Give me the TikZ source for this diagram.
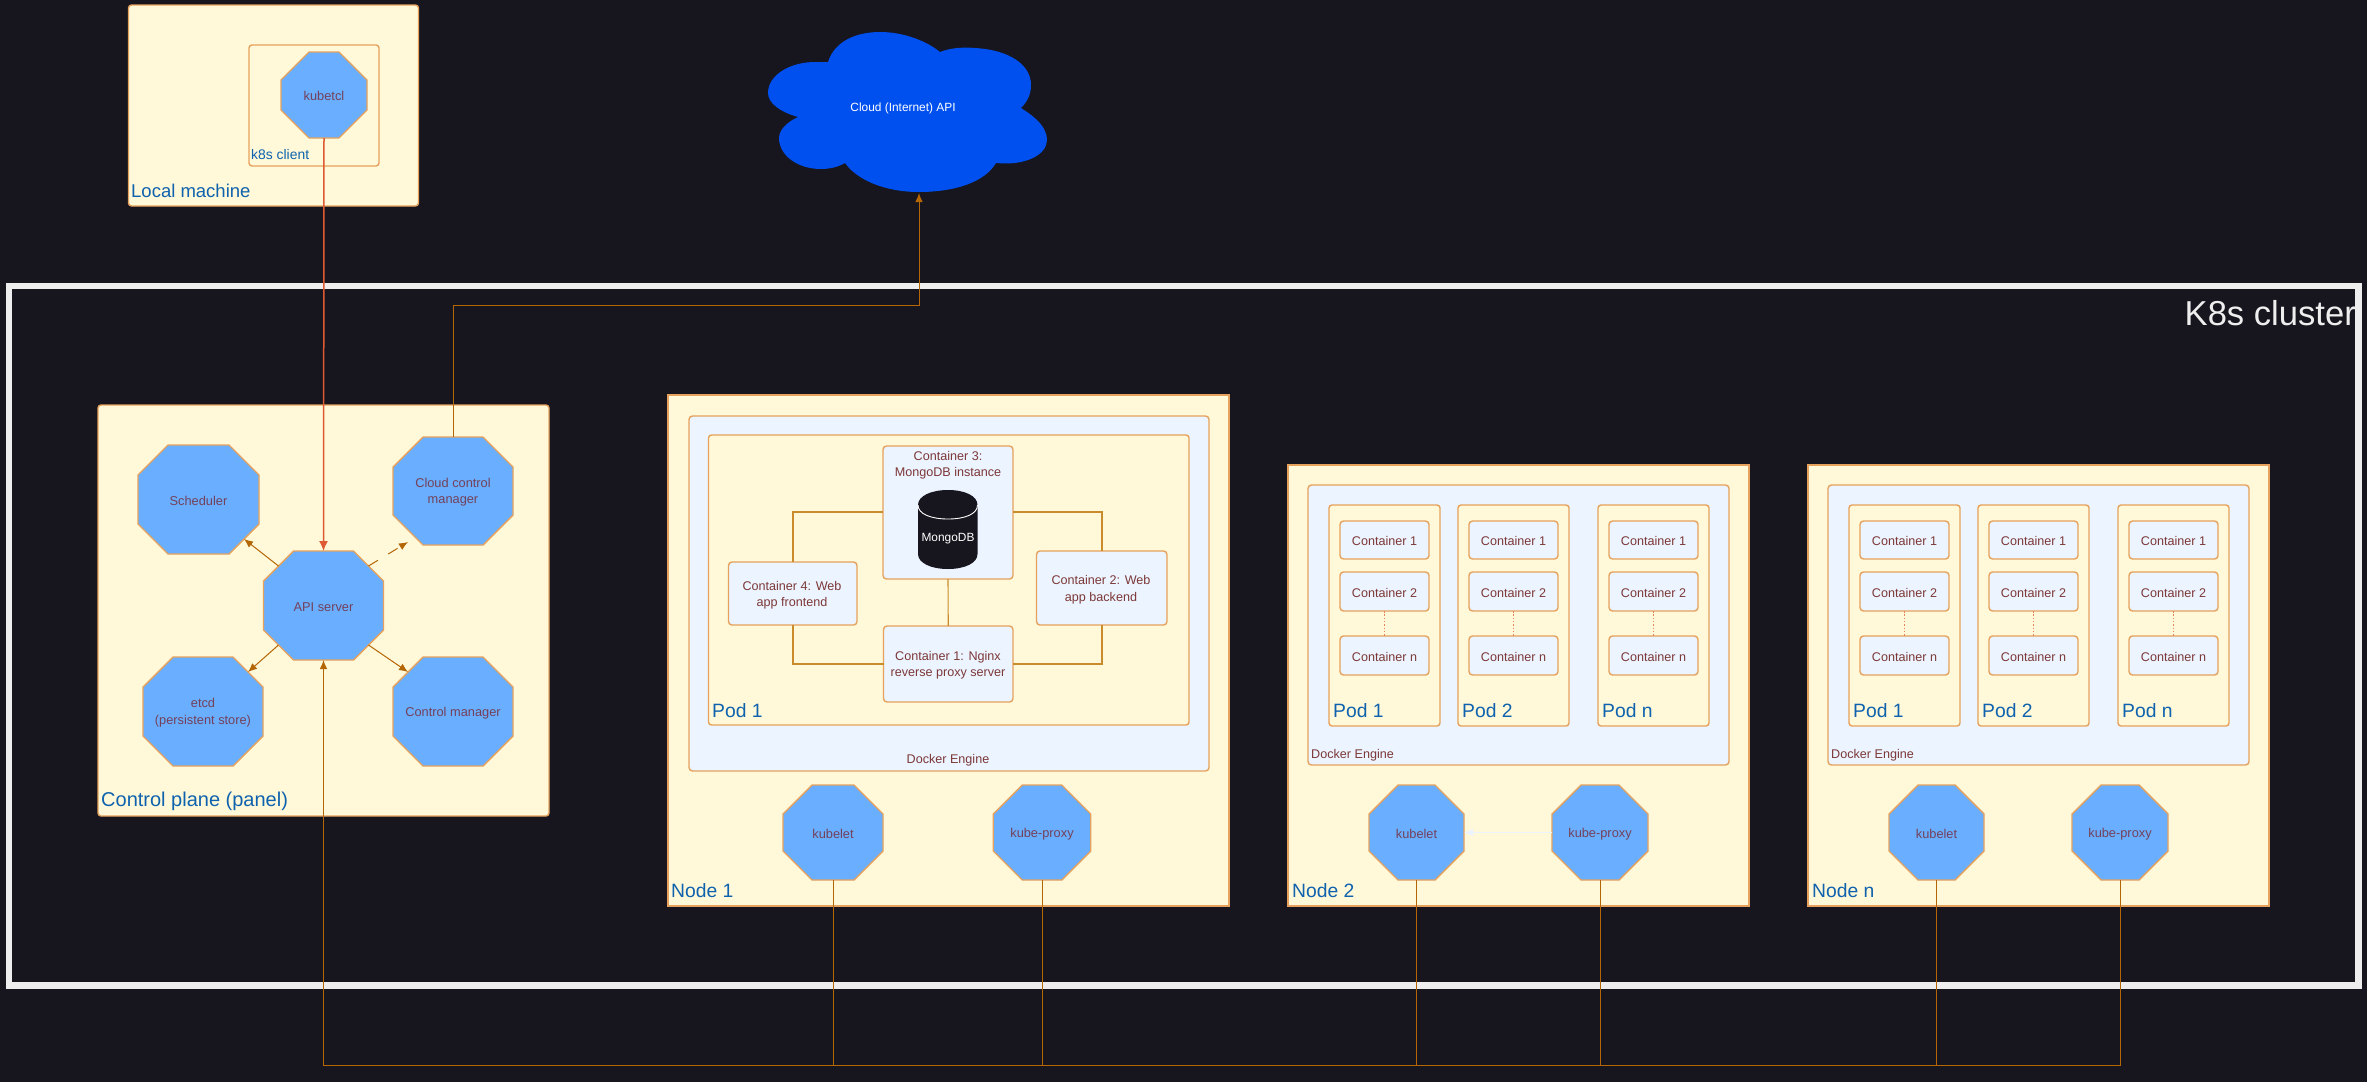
\documentclass[tikz,border=0pt]{standalone}
\usepackage{fontspec}
\setmainfont{Liberation Sans}
\usetikzlibrary{arrows.meta,calc}
\definecolor{bgc}{HTML}{17151D}
\definecolor{yel}{HTML}{FFF8D9}
\definecolor{pale}{HTML}{EBF4FF}
\definecolor{blu}{HTML}{6AAEFF}
\definecolor{edge}{HTML}{E6A25C}
\definecolor{wirec}{HTML}{B46504}
\definecolor{innerw}{HTML}{C98B2C}
\definecolor{redw}{HTML}{DD5A32}
\definecolor{txt}{HTML}{7D3838}
\definecolor{txtb}{HTML}{73415A}
\definecolor{lab}{HTML}{0F62AE}
\definecolor{cloudc}{HTML}{0050EF}
\definecolor{frame}{HTML}{EEEEEE}
\tikzset{
  x=1pt,y=-1pt,
  fs/.style={font=\fontsize{#1}{16.5}\selectfont},
  boxbase/.style={anchor=north west,inner sep=0pt,outer sep=0pt,draw=edge,line width=1.4pt},
  yelbox/.style={boxbase,fill=yel,rounded corners=3pt},
  yelsq/.style={boxbase,fill=yel},
  palebox/.style={boxbase,fill=pale,rounded corners=3.5pt},
  octface/.style={fill=blu,draw=edge,line width=1.4pt,line join=miter},
  octshape/.style={inner sep=0pt,outer sep=0pt},
  octtext/.style={inner sep=0pt,outer sep=0pt,align=center,text=txtb,fs=12.8},
  ctext/.style={inner sep=0pt,align=center,text=txt,fs=12.6},
  contbox/.style={palebox,text=txt,fs=12.6,text height=11.6pt,text depth=0pt},
  biglab/.style={anchor=west,inner sep=0pt,text=lab,fs=#1},
  biglab/.default=19.3,
  wire/.style={draw=wirec,line width=1pt},
  inwire/.style={draw=innerw,line width=1.1pt},
  tip/.style={-{Latex[length=9pt,width=7.5pt]}},
  dotw/.style={draw=redw!75!yel,line width=1pt,dash pattern=on 1.5pt off 1.8pt},
}
\newcommand{\rbox}[7]{\node[#1,minimum width={((#5)-(#3))*1pt},minimum height={((#6)-(#4))*1pt}] (#2) at (#3,#4) {#7};}
\newcommand{\octo}[7]{%
  \draw[octface] ({#2-#4/2+#6},{#3-#5/2}) -- ({#2+#4/2-#6},{#3-#5/2}) -- ({#2+#4/2},{#3-#5/2+#6}) -- ({#2+#4/2},{#3+#5/2-#6}) -- ({#2+#4/2-#6},{#3+#5/2}) -- ({#2-#4/2+#6},{#3+#5/2}) -- ({#2-#4/2},{#3+#5/2-#6}) -- ({#2-#4/2},{#3-#5/2+#6}) -- cycle;
  \node[octshape,minimum width={#4*1pt},minimum height={#5*1pt}] (#1) at (#2,#3) {};
  \node[octtext] (#1-t) at (#2,{#3+1.2}) {#7};
  \coordinate (#1-ul) at ({#2-#4/2+#6/2},{#3-#5/2+#6/2});
  \coordinate (#1-ur) at ({#2+#4/2-#6/2},{#3-#5/2+#6/2});
  \coordinate (#1-ll) at ({#2-#4/2+#6/2},{#3+#5/2-#6/2});
  \coordinate (#1-lr) at ({#2+#4/2-#6/2},{#3+#5/2-#6/2});}
\begin{document}
\begin{tikzpicture}
\fill[bgc] (0,0) rectangle (2367,1082);
\useasboundingbox (0,0) rectangle (2367,1082);
% cluster frame
\rbox{anchor=north west,inner sep=0pt,outer sep=0pt,draw=frame,line width=6.2pt}{cluster}{9}{286}{2358.5}{985.5}{}
\node[inner sep=0pt,anchor=east,text=frame,fs=34.6] (clusterlab) at (2356,313) {K8s cluster};
% local machine
\rbox{yelbox}{local}{128.5}{5}{418.5}{206}{}
\rbox{yelbox,fill=none}{client}{249}{45}{379}{166}{}
\node[biglab=13.9] (clientlab) at (251,154.5) {k8s client};
\node[biglab=18.5] (locallab) at (131,191) {Local machine};
\octo{kubectl}{324}{95}{86}{86}{28}{kubetcl}
% cloud
\fill[cloudc] (828,62) .. controls (835,40) and (858,32) .. (880,32) .. controls (905,32) and (928,42) .. (940,52) .. controls (950,48) and (962,47) .. (975,48) .. controls (1010,50) and (1031,65) .. (1031,85) .. controls (1031,95) and (1027,102) .. (1021,108) .. controls (1037,118) and (1047,128) .. (1047,140) .. controls (1047,155) and (1025,166) .. (996,163) .. controls (985,182) and (955,192) .. (919,192) .. controls (885,192) and (857,180) .. (845,163) .. controls (838,167) and (830,169) .. (821,169) .. controls (797,169) and (779,155) .. (779,138) .. controls (779,130) and (787,122) .. (798,117) .. controls (780,112) and (768,103) .. (768,93) .. controls (768,75) and (790,62) .. (815,62) .. controls (820,62) and (825,62) .. (828,62) -- cycle;
\node[inner sep=0pt,text=white,fs=11.9] (cloud) at (903,108) {Cloud (Internet) API};
\coordinate (cloudbottom) at (919,193);
% control plane
\rbox{yelbox}{plane}{98}{405}{549}{816}{}
\node[biglab=20] (planelab) at (101,801) {Control plane (panel)};
\octo{scheduler}{198.5}{499.5}{121}{109}{30}{Scheduler}
\octo{ccm}{453}{491}{120}{108}{30}{Cloud control\\manager}
\octo{api}{323.5}{605.5}{120}{109}{30}{API server}
\octo{etcd}{203}{711.5}{120}{109}{30}{etcd\\(persistent store)}
\octo{cm}{453}{711.5}{120}{109}{30}{Control manager}
% node 1
\rbox{yelsq}{nodeone}{668}{395}{1229}{906}{}
\rbox{palebox}{dockerone}{689}{416}{1209}{771}{}
\rbox{yelbox}{podone}{708.5}{435}{1189}{725}{}
\node[biglab] (podonelab) at (712,711) {Pod 1};
\node[biglab] (nodeonelab) at (671,891) {Node 1};
\node[inner sep=0pt,text=txt,fs=12.6] (dockeronelab) at (948,760) {Docker Engine};
\rbox{palebox}{cthree}{883}{446}{1013}{579}{}
\rbox{palebox}{cfour}{728.5}{562}{857}{625}{}
\rbox{palebox}{ctwo}{1036.5}{551}{1167}{625}{}
\rbox{palebox}{cone}{883.5}{626}{1013}{702}{}
\node[ctext] (cfourlab) at (792,595) {Container 4: Web\\app frontend};
\node[ctext] (ctwolab) at (1101,589.5) {Container 2: Web\\app backend};
\node[ctext] (cthreelab) at (948,465) {Container 3:\\MongoDB instance};
\node[ctext] (conelab) at (948,665) {Container 1: Nginx\\reverse proxy server};
\fill[bgc] (918,505) .. controls (918,496) and (931,490) .. (948,490) .. controls (965,490) and (977.5,496) .. (977.5,505) -- (977.5,554) .. controls (977.5,563) and (965,569) .. (948,569) .. controls (931,569) and (918,563) .. (918,554) -- cycle;
\draw[white,line width=.9pt] (918,505) .. controls (918,514) and (931,519) .. (948,519) .. controls (965,519) and (977.5,514) .. (977.5,505);
\node[inner sep=0pt,text=white,fs=11.9] (mongo) at (948,539) {MongoDB};
\draw[inwire] (cthree.west |- 0,512) -| (cfour.north -| 793,0);
\draw[inwire] (cthree.east |- 0,512) -| (ctwo.north -| 1102,0);
\draw[inwire] (cthree.south) -- (cone.north);
\draw[inwire] (cfour.south -| 793,0) |- (cone.west |- 0,664);
\draw[inwire] (ctwo.south -| 1102,0) |- (cone.east |- 0,664);
\octo{kletone}{833}{832.5}{100}{95}{29}{kubelet}
\octo{kpone}{1042}{832.5}{97.5}{95}{29}{kube-proxy}
% nodes 2 and n
\foreach \o/\nm/\sf in {0/2/a,520/n/b}{
  \rbox{yelsq}{node\sf}{\o+1288}{465}{\o+1749}{906}{}
  \rbox{palebox}{docker\sf}{\o+1308}{485}{\o+1729}{765}{}
  \node[inner sep=0pt,anchor=west,text=txt,fs=12.6] (dockerlab\sf) at (\o+1311,755) {Docker Engine};
  \node[biglab] (nodelab\sf) at (\o+1292,891) {Node \nm};
  \foreach \px/\lx/\pn/\ps in {1329/1333/1/p,1458/1462/2/q,1598/1602/n/r}{
    \rbox{yelbox}{pod\sf\ps}{\o+\px}{505}{\o+\px+111}{726}{}
    \node[biglab] (podlab\sf\ps) at (\o+\lx,711) {Pod \pn};
    \rbox{contbox}{c\sf\ps i}{\o+\px+11}{521}{\o+\px+100}{559}{Container 1}
    \rbox{contbox}{c\sf\ps j}{\o+\px+11}{572}{\o+\px+100}{611}{Container 2}
    \rbox{contbox}{c\sf\ps k}{\o+\px+11}{636}{\o+\px+100}{675}{Container n}
    \draw[dotw] (c\sf\ps j.south) -- (c\sf\ps k.north);
  }
  \octo{klet\sf}{\o+1416.5}{832.5}{95}{95}{29}{kubelet}
  \octo{kp\sf}{\o+1600}{832.5}{96}{95}{29}{kube-proxy}
}
\draw[draw=pale,line width=1.2pt,tip] (kpa.west) -- (kleta.east);
% connectors
\draw[draw=redw,line width=1.5pt,-{Latex[length=10pt,width=9pt]}] (kubectl.south) -- (api.north);
\draw[wire,tip] (ccm.north) |- (cloudbottom |- 0,305) -- (cloudbottom);
\draw[wire,tip] (api-ul) -- (scheduler-lr);
\coordinate (ccmtip) at (408,542);
\draw[wire,tip,dash pattern=on 11pt off 12pt] (api-ur) -- (ccmtip);
\draw[wire,tip] (api-ll) -- (etcd-ur);
\draw[wire,tip] (api-lr) -- (cm-ul);
\coordinate (busl) at (323.5,1065);
\draw[wire,tip] (kpb.south) |- (busl) -- (api.south);
\foreach \k in {kletone,kpone,kleta,kpa,kletb}{
  \draw[wire] (\k.south) -- (\k.south |- busl);
}
\end{tikzpicture}
\end{document}
